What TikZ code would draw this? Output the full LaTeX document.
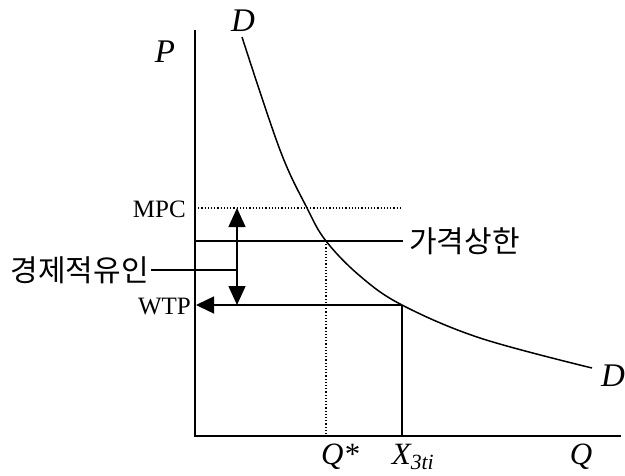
\documentclass[tikz,border=0pt]{standalone}
\usepackage{fontspec}
\setmainfont{Liberation Serif}
\newfontfamily\kr{Noto Sans CJK KR}
\usetikzlibrary{arrows.meta}
\tikzset{
  axis/.style={line width=1.7pt},
  guide/.style={line width=1.4pt},
  dotguide/.style={line width=1.2pt, dotted},
  bigtip/.style={-{Triangle[length=18pt,width=17pt]}},
  lbl/.style={inner sep=0pt, font=\fontsize{25}{29}\selectfont},
  itl/.style={inner sep=0pt, font=\fontsize{33}{38}\selectfont\itshape},
  itq/.style={inner sep=0pt, font=\fontsize{31}{36}\selectfont\itshape},
  krl/.style={inner sep=0pt, font=\fontsize{30}{34}\selectfont\kr}
}
\begin{document}
\begin{tikzpicture}[x=1pt,y=-1pt]
\useasboundingbox (0,0) rectangle (625,475);
% axes
\coordinate (ytop) at (195,30);
\coordinate (orig) at (195,436);
\coordinate (xend) at (621,436);
\draw[axis] (ytop) -- (orig) -- (xend);
% demand curve
\draw[line width=1.5pt] plot[smooth, tension=0.6] coordinates {(242,37) (280,150) (307,208) (326,241) (360,276) (402,305) (480,338) (592,368)};
% MPC dotted
\coordinate (mpcL) at (195,208);
\coordinate (mpcR) at (400,208);
\draw[dotguide] (mpcL) -- (mpcR);
% price ceiling
\coordinate (ceilL) at (195,241);
\coordinate (ceilR) at (403,241);
\draw[guide] (ceilL) -- (ceilR);
% WTP arrow
\coordinate (wtpR) at (402,305);
\coordinate (wtpL) at (196,305);
\draw[guide, bigtip] (wtpR) -- (wtpL);
% double arrow
\coordinate (dtop) at (237,208);
\coordinate (dbot) at (237,305);
\draw[guide, {Triangle[length=19pt,width=17pt]}-{Triangle[length=19pt,width=17pt]}] (dtop) -- (dbot);
% Q* dotted and X vertical
\coordinate (qsT) at (326,241);
\coordinate (qsB) at (326,436);
\draw[dotguide] (qsT) -- (qsB);
\coordinate (xT) at (402,305);
\coordinate (xB) at (402,436);
\draw[guide] (xT) -- (xB);
% labels
\node[lbl, anchor=east] (mpc) at (186,209) {MPC};
\node[lbl, anchor=east] (wtp) at (191,306) {WTP};
\node[itl] (P) at (165,52) {P};
\node[itl] (D1) at (243,21) {D};
\node[itl] (D2) at (613,376) {D};
\node[itq] (qs) at (340,457) {Q*};
\node[itq] (x3) at (413,457) {X\textsubscript{3\textit{ti}}};
\node[itq] (Q) at (581,457) {Q};
\node[krl, anchor=east] (inc) at (149,270) {경제적유인};
\node[krl, anchor=west] (ceil) at (409,241) {가격상한};
\coordinate (incR) at (237,270);
\draw[guide] (inc.east) ++(2,0) -- (incR);
\end{tikzpicture}
\end{document}
